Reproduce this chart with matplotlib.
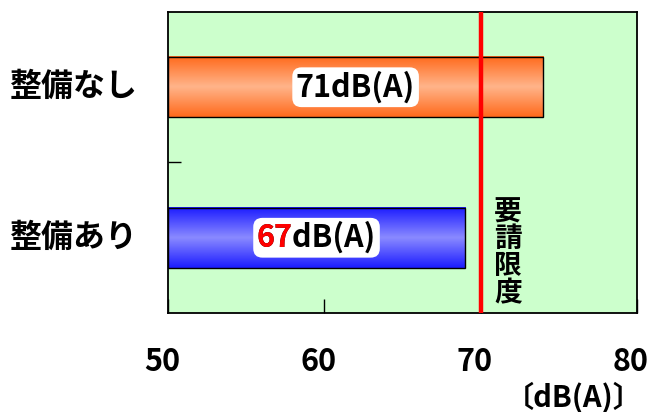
import numpy as np
import matplotlib.pyplot as plt
import matplotlib.transforms as mtransforms
from matplotlib.colors import LinearSegmentedColormap

plt.rcParams['font.family'] = ['Noto Sans CJK JP', 'DejaVu Sans']
plt.rcParams['font.weight'] = 'bold'

# Data
categories = ["整備あり", "整備なし"]
bar_values = [69, 74]
label_values = [67, 71]
limit_value = 70
x_ticks = [50, 60, 70, 80]

edge_colors = ["#1c1cff", "#ff6a1c"]
center_colors = ["#8a8aff", "#ffb48a"]

fig = plt.figure(figsize=(6.49, 4.12), dpi=100)
ax = fig.add_axes([0.2589, 0.2403, 0.9815 - 0.2589, 0.9709 - 0.2403])
ax.set_facecolor("#ccffcc")

bar_h = 0.4
y_pos = np.arange(len(categories))
grad = np.abs(np.linspace(-1, 1, 101)).reshape(-1, 1)

for i, (cat, val) in enumerate(zip(categories, bar_values)):
    cmap = LinearSegmentedColormap.from_list("g", [center_colors[i], edge_colors[i]])
    ax.imshow(grad, extent=(50, val, y_pos[i] - bar_h / 2, y_pos[i] + bar_h / 2),
              cmap=cmap, aspect="auto", zorder=2, interpolation="bicubic")
    ax.barh(y_pos[i], val - 50, left=50, height=bar_h, facecolor="none",
            edgecolor="black", linewidth=1, zorder=3)

ax.set_xlim(50, 80)
ax.set_ylim(-0.5, 1.5)

# limit line
ax.axvline(limit_value, color="red", linewidth=3.2, zorder=4)
ax.text(limit_value + 1.75, -0.1, "\n".join("要請限度"), ha="center", va="center",
        fontsize=20, fontweight="bold", linespacing=0.95, zorder=5)

# value labels
texts = []
for i, (val, lab) in enumerate(zip(bar_values, label_values)):
    t = ax.text((50 + val) / 2, y_pos[i], f"{lab}dB(A)", ha="center", va="center",
                fontsize=22, fontweight="bold", zorder=6,
                bbox=dict(boxstyle="round,pad=0.12,rounding_size=0.3", fc="white", ec="none"))
    texts.append(t)

# red number on the lower bar
fig.canvas.draw()
t = texts[0]
ext = t.get_window_extent()
x0 = ax.transData.inverted().transform((ext.x0, 0))[0]
ax.text(x0, y_pos[0], f"{label_values[0]}", ha="left", va="center", color="red",
        fontsize=22, fontweight="bold", zorder=7)

ax.set_xticks(x_ticks)
ax.set_xticklabels([str(v) for v in x_ticks], fontsize=22, fontweight="bold")
ax.tick_params(axis="x", direction="in", length=10, width=1, pad=24)
shift = mtransforms.ScaledTranslation(-6 / 100, 0, fig.dpi_scale_trans)
for lbl in ax.get_xticklabels():
    lbl.set_transform(lbl.get_transform() + shift)
ax.set_yticks([0.5])
ax.set_yticklabels([""])
ax.tick_params(axis="y", direction="in", length=9, width=1)
for i, cat in enumerate(categories):
    ax.text(-0.065, y_pos[i], cat, transform=ax.get_yaxis_transform(), ha="right",
            va="center", fontsize=23, fontweight="bold")
for s in ax.spines.values():
    s.set_linewidth(1.3)

ax.text(1.013, -0.28, "〔dB(A)〕", transform=ax.transAxes, ha="right", va="center",
        fontsize=21, fontweight="bold")

fig.savefig("out.png", dpi=100)
